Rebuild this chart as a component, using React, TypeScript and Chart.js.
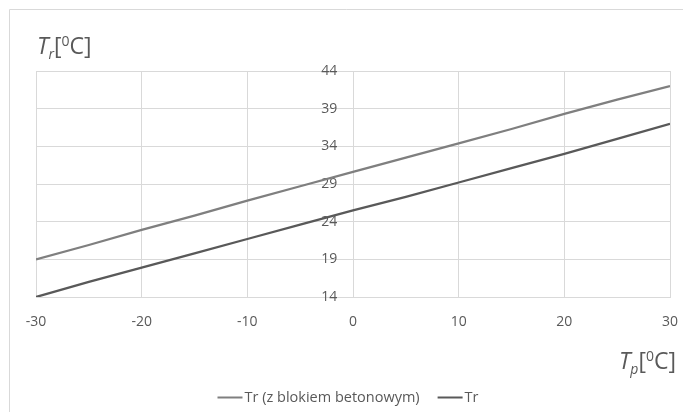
import React, { useEffect, useRef } from 'react';
import { Chart, registerables } from 'chart.js';

Chart.register(...registerables);

const tpValues = [-30, -25, -20, -15, -10, -5, 0, 5, 10, 15, 20, 25, 30];
const trBetonValues = [19, 20.9, 22.9, 24.8, 26.8, 28.7, 30.6, 32.5, 34.4, 36.3, 38.3, 40.2, 42];
const trValues = [14, 16, 17.9, 19.8, 21.7, 23.6, 25.5, 27.3, 29.2, 31.1, 33, 35, 37];
const seriesLabels = ['Tr (z blokiem betonowym)', 'Tr'];
const seriesColors = ['#7f7f7f', '#595959'];
const xMin = -30;
const xMax = 30;
const xStep = 10;
const yMin = 14;
const yMax = 44;
const yStep = 5;
// y tick labels sit just left of the Tp = 0 line
const yAxisAnchor = -1.5;

const FONT = "'Open Sans', 'DejaVu Sans', sans-serif";
const TEXT = '#595959';
const GRID = '#d9d9d9';

type Seg = { t: string; italic?: boolean; size: number; dy: number };

function titleSegs(sub: string): Seg[] {
  return [
    { t: 'T', italic: true, size: 23, dy: 0 },
    { t: sub, italic: true, size: 14, dy: 5 },
    { t: '[', size: 23, dy: 0 },
    { t: '0', size: 14, dy: -8 },
    { t: 'C]', size: 23, dy: 0 },
  ];
}

function measureSegs(ctx: CanvasRenderingContext2D, segs: Seg[]) {
  let w = 0;
  for (const s of segs) {
    ctx.font = `${s.italic ? 'italic ' : ''}${s.size}px ${FONT}`;
    w += ctx.measureText(s.t).width;
  }
  return w;
}

function drawSegs(ctx: CanvasRenderingContext2D, segs: Seg[], x: number, y: number) {
  let cx = x;
  ctx.textBaseline = 'alphabetic';
  ctx.textAlign = 'left';
  for (const s of segs) {
    ctx.font = `${s.italic ? 'italic ' : ''}${s.size}px ${FONT}`;
    ctx.fillText(s.t, cx, y + s.dy);
    cx += ctx.measureText(s.t).width;
  }
}

const decorPlugin = {
  id: 'decor',
  beforeDraw(chart: any) {
    const ctx = chart.ctx as CanvasRenderingContext2D;
    ctx.save();
    ctx.strokeStyle = GRID;
    ctx.lineWidth = 1;
    ctx.beginPath();
    ctx.moveTo(9.5, chart.height);
    ctx.lineTo(9.5, 9.5);
    ctx.lineTo(chart.width, 9.5);
    ctx.stroke();
    ctx.restore();
  },
  afterDraw(chart: any) {
    const ctx = chart.ctx as CanvasRenderingContext2D;
    ctx.save();
    ctx.fillStyle = TEXT;
    // axis titles
    drawSegs(ctx, titleSegs('r'), 37, 54);
    const bs = titleSegs('p');
    const bw = measureSegs(ctx, bs);
    drawSegs(ctx, bs, 676 - bw, 369);

    // legend
    const lf = `14.5px ${FONT}`;
    ctx.font = lf;
    const lineLen = 25;
    const gap = 2;
    const itemGap = 18;
    const widths = chart.data.datasets.map((d: any) => lineLen + gap + ctx.measureText(d.label).width);
    const total = widths.reduce((a: number, b: number) => a + b, 0) + itemGap * (widths.length - 1);
    let x = 348 - total / 2;
    const y = 397.5;
    chart.data.datasets.forEach((d: any, i: number) => {
      ctx.strokeStyle = d.borderColor;
      ctx.lineWidth = 2;
      ctx.beginPath();
      ctx.moveTo(x, y);
      ctx.lineTo(x + lineLen, y);
      ctx.stroke();
      ctx.fillStyle = TEXT;
      ctx.font = lf;
      ctx.textBaseline = 'middle';
      ctx.textAlign = 'left';
      ctx.fillText(d.label, x + lineLen + gap, y);
      x += widths[i] + itemGap;
    });
    ctx.restore();
  },
};

export default function App() {
  const ref = useRef<HTMLCanvasElement | null>(null);

  useEffect(() => {
    if (!ref.current) return;
    const chart = new Chart(ref.current, {
      type: 'line',
      data: {
        datasets: [
          {
            label: seriesLabels[0],
            data: tpValues.map((x, i) => ({ x, y: trBetonValues[i] })),
            borderColor: seriesColors[0],
            backgroundColor: seriesColors[0],
            borderWidth: 2.25,
            pointRadius: 0,
            tension: 0,
          },
          {
            label: seriesLabels[1],
            data: tpValues.map((x, i) => ({ x, y: trValues[i] })),
            borderColor: seriesColors[1],
            backgroundColor: seriesColors[1],
            borderWidth: 2.25,
            pointRadius: 0,
            tension: 0,
          },
        ],
      },
      options: {
        responsive: false,
        animation: false,
        layout: { padding: { left: 36, right: 13, top: 71, bottom: 0 } },
        plugins: {
          legend: { display: false },
          tooltip: { enabled: false },
        },
        scales: {
          x: {
            type: 'linear',
            min: xMin,
            max: xMax,
            ticks: {
              stepSize: xStep,
              color: TEXT,
              font: { family: FONT, size: 14 },
              padding: 17,
              maxRotation: 0,
            },
            grid: { color: GRID, drawTicks: false },
            border: { color: GRID },
            afterFit: (s: any) => {
              s.height = 412 - 297;
              s.paddingLeft = 0;
              s.paddingRight = 0;
            },
          },
          y: {
            type: 'linear',
            position: { x: yAxisAnchor },
            min: yMin,
            max: yMax,
            ticks: {
              stepSize: yStep,
              color: TEXT,
              font: { family: FONT, size: 14 },
            },
            grid: { color: GRID, drawTicks: false },
            border: { display: false },
            afterFit: (s: any) => {
              s.width = 0;
            },
          },
        },
      } as any,
      plugins: [decorPlugin],
    });
    return () => chart.destroy();
  }, []);

  return (
    <div style={{ position: 'fixed', left: 0, top: 0, width: 683, height: 412, background: '#fff' }}>
      <canvas ref={ref} width={683} height={412} style={{ display: 'block', width: 683, height: 412 }} />
    </div>
  );
}
